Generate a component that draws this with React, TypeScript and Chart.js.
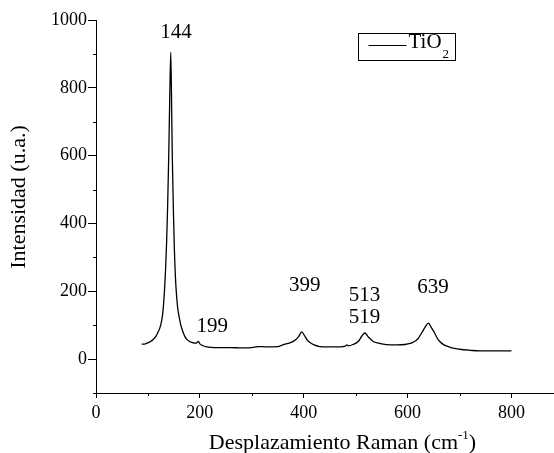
import React, { useEffect, useRef } from "react";
import { Chart, registerables } from "chart.js";

Chart.register(...registerables);

// Raman shift (cm-1)
const ramanShift = [
  88, 95, 100, 105, 110, 115, 119, 123, 126, 128, 130, 132, 134, 136, 138, 140, 142, 144,
  146, 147, 149, 151, 153, 155, 157, 160, 163, 167, 171, 175, 180, 185, 190, 194, 197, 200,
  205, 213, 230, 258, 280, 300, 312, 330, 350, 360, 370, 377, 385, 390, 396, 402, 407, 412,
  420, 431, 450, 476, 480, 483, 486, 495, 505, 512, 518, 524, 534, 545, 553, 565, 579, 595,
  605, 611, 620, 627, 634, 640, 646, 652, 657, 662, 670, 680, 688, 700, 720, 739, 760, 780, 800,
];
// Intensity (a.u.)
const intensity = [
  44, 45, 48, 52, 58, 66, 78, 92, 110, 128, 160, 205, 265, 345, 455, 595, 770, 905,
  700, 590, 440, 320, 240, 190, 155, 125, 102, 82, 67, 58, 52, 49, 47, 48, 52, 45,
  40, 36, 34, 34, 33, 34, 37, 36, 37, 42, 46, 50, 58, 66, 80, 68, 56, 49,
  42, 37, 36, 37, 38, 42, 39, 43, 52, 68, 77, 66, 52, 47, 44, 42, 42, 43,
  46, 50, 60, 77, 95, 106, 92, 77, 62, 52, 42, 36, 32, 29, 26, 24, 24, 24, 24,
];

const seriesName = "TiO";
const seriesSub = "2";

const peakLabels = ["144", "199", "399", "513", "519", "639"];
const peakLabelX = [154, 224, 402, 517, 517, 649];
const peakLabelY = [946, 81, 202, 170, 106, 194];

const xTitle = "Desplazamiento Raman (cm";
const xTitleSup = "-1";
const yTitle = "Intensidad (u.a.)";

const FONT = "'Liberation Serif', 'Times New Roman', serif";

const decorPlugin = {
  id: "decor",
  afterDraw(chart: any) {
    const { ctx, chartArea, scales } = chart;
    const xs = scales.x;
    const ys = scales.y;
    ctx.save();
    ctx.strokeStyle = "#000";
    ctx.fillStyle = "#000";
    ctx.lineWidth = 1;
    // minor ticks
    xs.ticks.forEach((t: any) => {
      if (t.value % 200 !== 0) {
        const px = Math.round(xs.getPixelForValue(t.value)) + 0.5;
        ctx.beginPath();
        ctx.moveTo(px, chartArea.bottom);
        ctx.lineTo(px, chartArea.bottom + 3);
        ctx.stroke();
      }
    });
    ys.ticks.forEach((t: any) => {
      if (t.value % 200 !== 0) {
        const py = Math.round(ys.getPixelForValue(t.value)) + 0.5;
        ctx.beginPath();
        ctx.moveTo(chartArea.left - 3, py);
        ctx.lineTo(chartArea.left, py);
        ctx.stroke();
      }
    });
    // peak labels
    ctx.font = `21px ${FONT}`;
    ctx.textAlign = "center";
    ctx.textBaseline = "alphabetic";
    peakLabels.forEach((l, i) => {
      ctx.fillText(l, xs.getPixelForValue(peakLabelX[i]), ys.getPixelForValue(peakLabelY[i]));
    });
    // legend
    const bx = chartArea.left + 262.5;
    const by = chartArea.top + 13.5;
    ctx.strokeRect(bx, by, 97, 27);
    ctx.beginPath();
    ctx.moveTo(bx + 10, by + 12);
    ctx.lineTo(bx + 48, by + 12);
    ctx.lineWidth = 1.2;
    ctx.stroke();
    ctx.textAlign = "left";
    ctx.font = `21px ${FONT}`;
    ctx.fillText(seriesName, bx + 50, by + 14);
    const w = ctx.measureText(seriesName).width;
    ctx.font = `13px ${FONT}`;
    ctx.fillText(seriesSub, bx + 50 + w + 1, by + 24);
    // x title
    ctx.font = `22px ${FONT}`;
    const w1 = ctx.measureText(xTitle).width;
    ctx.font = `13px ${FONT}`;
    const w2 = ctx.measureText(xTitleSup).width;
    ctx.font = `22px ${FONT}`;
    const w3 = ctx.measureText(")").width;
    const total = w1 + w2 + w3;
    let tx = chartArea.left + 246.5 - total / 2;
    const ty = chartArea.bottom + 56;
    ctx.fillText(xTitle, tx, ty);
    tx += w1;
    ctx.font = `13px ${FONT}`;
    ctx.fillText(xTitleSup, tx, ty - 10);
    tx += w2;
    ctx.font = `22px ${FONT}`;
    ctx.fillText(")", tx, ty);
    // y title
    ctx.font = `22px ${FONT}`;
    ctx.translate(25, chartArea.top + 177);
    ctx.rotate(-Math.PI / 2);
    ctx.textAlign = "center";
    ctx.fillText(yTitle, 0, 0);
    ctx.restore();
  },
};

export default function App() {
  const ref = useRef<HTMLCanvasElement | null>(null);
  useEffect(() => {
    if (!ref.current) return;
    Chart.defaults.font.family = FONT;
    Chart.defaults.color = "#000";
    const points = ramanShift.map((x, i) => ({ x, y: intensity[i] }));
    const chart = new Chart(ref.current, {
      type: "line",
      data: {
        datasets: [
          {
            label: seriesName + seriesSub,
            data: points,
            borderColor: "#000",
            borderWidth: 1.3,
            pointRadius: 0,
            cubicInterpolationMode: "monotone",
            fill: false,
          },
        ],
      },
      options: {
        animation: false,
        responsive: false,
        layout: { padding: { top: 20, right: 1, left: 0, bottom: 0 } },
        plugins: { legend: { display: false }, tooltip: { enabled: false } },
        scales: {
          x: {
            type: "linear",
            min: 0,
            max: 880,
            afterBuildTicks: (s: any) => {
              s.ticks = s.ticks.filter((t: any) => t.value % 100 === 0 && t.value <= 800);
            },
            afterFit: (s: any) => {
              s.height = 60;
            },
            ticks: {
              stepSize: 100,
              includeBounds: false,
              autoSkip: false,
              maxRotation: 0,
              padding: 4,
              font: { size: 18 },
              callback: (v: any) => (Number(v) % 200 === 0 ? String(v) : ""),
            },
            grid: {
              drawOnChartArea: false,
              drawTicks: true,
              tickLength: 5,
              tickColor: (c: any) => (c.tick && c.tick.value % 200 === 0 ? "#000" : "rgba(0,0,0,0)"),
            },
            border: { display: true, color: "#000", width: 1 },
          },
          y: {
            type: "linear",
            min: -100,
            max: 1000,
            afterBuildTicks: (s: any) => {
              s.ticks = s.ticks.filter((t: any) => t.value % 100 === 0);
            },
            afterFit: (s: any) => {
              s.width = 96;
            },
            ticks: {
              stepSize: 100,
              autoSkip: false,
              padding: 1,
              font: { size: 18 },
              callback: (v: any) => (Number(v) % 200 === 0 && Number(v) >= 0 ? String(v) : ""),
            },
            grid: {
              drawOnChartArea: false,
              drawTicks: true,
              tickLength: 8,
              tickColor: (c: any) =>
                c.tick && c.tick.value % 200 === 0 && c.tick.value >= 0 ? "#000" : "rgba(0,0,0,0)",
            },
            border: { display: true, color: "#000", width: 1 },
          },
        },
      },
      plugins: [decorPlugin],
    } as any);
    return () => chart.destroy();
  }, []);
  return (
    <div style={{ position: "absolute", left: 0, top: 0, width: 554, height: 453, background: "#fff" }}>
      <canvas ref={ref} width={554} height={453} style={{ display: "block" }} />
    </div>
  );
}
